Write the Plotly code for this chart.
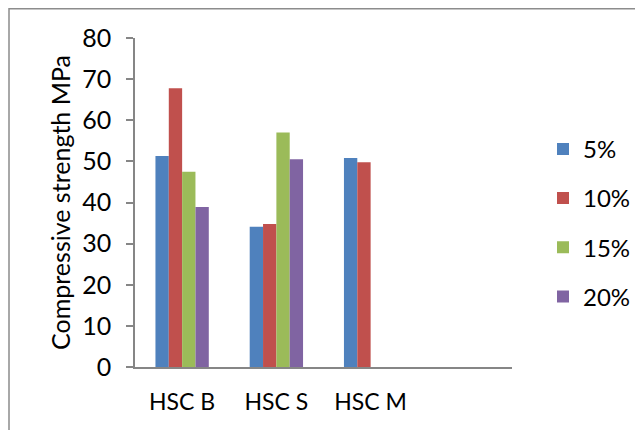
import plotly.graph_objects as go

categories = ["HSC B", "HSC S", "HSC M"]
series_names = ["5%", "10%", "15%", "20%"]
val_5 = [51.3, 34.1, 50.85]
val_10 = [67.8, 34.8, 49.8]
val_15 = [47.5, 57.0, None]
val_20 = [38.9, 50.5, None]
colors = ["#4F81BD", "#C0504D", "#9BBB59", "#8064A2"]
y_ticks = [0, 10, 20, 30, 40, 50, 60, 70, 80]

FONT = "Lato"
fig = go.Figure()
for i, (name, vals) in enumerate(zip(series_names, [val_5, val_10, val_15, val_20])):
    fig.add_trace(go.Bar(
        x=categories, y=vals, name=name, legendgroup=name,
        marker=dict(color=colors[i], line=dict(width=0)),
    ))

OFF = 8  # page body margin
W, H = 643 - OFF, 430 - OFF
# screen-coordinate plot box
SX0, SX1, SY0, SY1 = 135, 512, 38.3, 367
L, T = SX0 - OFF, SY0 - OFF
R = W - (SX1 - OFF)
B = H - (SY1 - OFF)
pw = W - L - R
ph = H - T - B

def px_x(p):
    return (p - OFF - L) / pw

def px_y(p):
    return (SY1 - p) / ph

fig.update_layout(
    width=W, height=H,
    margin=dict(l=L, r=R, t=T, b=B, autoexpand=False),
    paper_bgcolor="white", plot_bgcolor="white",
    font=dict(family=FONT, size=22, color="black"),
    barmode="group", bargap=0.434, bargroupgap=0,
    showlegend=True,
    legend=dict(
        x=px_x(543), y=px_y(127), xanchor="left", yanchor="top",
        traceorder="grouped", tracegroupgap=15,
        font=dict(family=FONT, size=24),
        bgcolor="rgba(0,0,0,0)",
    ),
    xaxis=dict(
        range=[-0.5, 3.5], type="category",
        showline=True, linecolor="#868686", linewidth=2,
        ticks="", showgrid=False, zeroline=False,
        ticklabelstandoff=13,
        tickfont=dict(family=FONT, size=23),
    ),
    yaxis=dict(
        range=[0, 80], tickvals=y_ticks,
        showline=True, linecolor="#868686", linewidth=1.5,
        ticks="outside", ticklen=7, tickcolor="#868686", tickwidth=1.5,
        showgrid=False, zeroline=False,
        ticklabelstandoff=10,
        tickfont=dict(family=FONT, size=25),
        title=dict(text="Compressive strength MPa", standoff=4,
                   font=dict(family=FONT, size=25)),
    ),
    shapes=[dict(
        type="rect", xref="paper", yref="paper",
        x0=px_x(9), x1=px_x(720), y0=px_y(500), y1=px_y(9),
        line=dict(color="#8c8c8c", width=1.5), fillcolor="rgba(0,0,0,0)",
        layer="below",
    )],
)

fig.write_html("out.html")
